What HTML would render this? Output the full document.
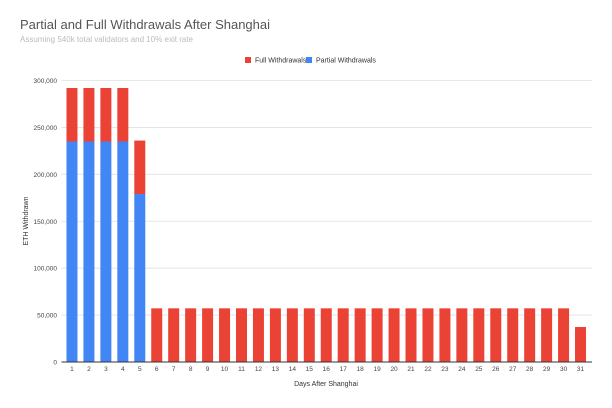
<!DOCTYPE html>
<html><head><meta charset="utf-8"><style>
html,body{margin:0;padding:0;background:#fff;}
svg{display:block;font-family:"Liberation Sans",sans-serif;}
</style></head><body>
<svg id="chart" width="612" height="408">
<text x="20" y="29" font-size="13" fill="#555">Partial and Full Withdrawals After Shanghai</text>
<text x="20" y="42" font-size="8" fill="#bbb">Assuming 540k total validators and 10% exit rate</text>
<g>
<g><rect x="245" y="57" width="6" height="6" fill="#ea4335"/><text x="255" y="62.5" font-size="7" fill="#333">Full Withdrawals</text></g>
<g><rect x="306" y="57" width="6" height="6" fill="#4285f4"/><text x="316" y="62.5" font-size="7" fill="#333">Partial Withdrawals</text></g>
</g>
<g id="grid"></g>
<g id="bars"></g>
<g id="xlabels"></g>
<text x="326" y="386" font-size="7" fill="#333" text-anchor="middle">Days After Shanghai</text>
<text transform="translate(28,221) rotate(-90)" font-size="7" fill="#333" text-anchor="middle">ETH Withdrawn</text>
</svg>
<script>
const categories = Array.from({length:31},(_, i)=>String(i+1));
const partial = [235000,235000,235000,235000,179000,0,0,0,0,0,0,0,0,0,0,0,0,0,0,0,0,0,0,0,0,0,0,0,0,0,0];
const full = [57000,57000,57000,57000,57000,57200,57200,57200,57200,57200,57200,57200,57200,57200,57200,57200,57200,57200,57200,57200,57200,57200,57200,57200,57200,57200,57200,57200,57200,57200,37300];
const yTicks = [0,50000,100000,150000,200000,250000,300000];
const yTickLabels = ["0","50,000","100,000","150,000","200,000","250,000","300,000"];

const NS="http://www.w3.org/2000/svg";
const x0=63.5, x1=589, y0=362, yTop=80.5, yMax=300000;
const band=(x1-x0)/categories.length, bw=11;
function y(v){return y0-(v/yMax)*(y0-yTop);}
function xc(i){return x0+band*(i+0.5);}
function mk(tag,attrs,parent){const e=document.createElementNS(NS,tag);for(const k in attrs)e.setAttribute(k,attrs[k]);parent.appendChild(e);return e;}
const grid=document.getElementById('grid'),bars=document.getElementById('bars'),xl=document.getElementById('xlabels');
yTicks.forEach((t,i)=>{
  const l=mk('line',{x1:x0-2,x2:592,y1:y(t),y2:y(t),stroke:i===0?'#333':'#e0e0e0','stroke-width':i===0?1:0.8},grid);
  
  
  const tx=mk('text',{x:57,y:y(t)+2.5,'font-size':6.5,fill:'#444','text-anchor':'end'},grid);
  tx.textContent=yTickLabels[i];
  
  
});
categories.forEach((c,i)=>{
  const bx=xc(i)-bw/2;
  if(partial[i]>0){
    const r=mk('rect',{x:bx,y:y(partial[i]),width:bw,height:y0-y(partial[i]),fill:'#4285f4'},bars);
    
    
  }
  const top=partial[i]+full[i];
  const r2=mk('rect',{x:bx,y:y(top),width:bw,height:y(partial[i])-y(top),fill:'#ea4335'},bars);
  
  
  const t=mk('text',{x:xc(i),y:371,'font-size':6.5,fill:'#444','text-anchor':'middle'},xl);
  t.textContent=c;
  
  
});
const base=mk('line',{x1:x0,x2:592,y1:y0,y2:y0,stroke:'#333','stroke-width':1},bars);


</script>
</body></html>
